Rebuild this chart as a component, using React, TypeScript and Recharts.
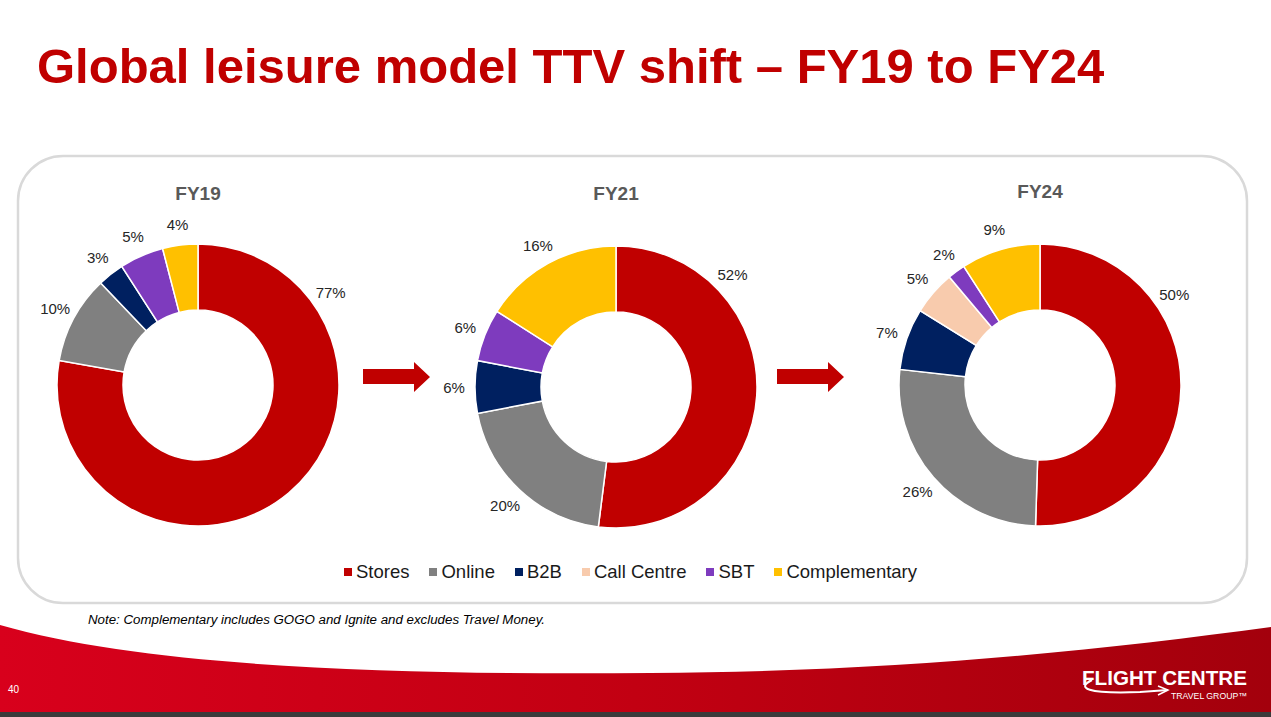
import React from 'react';
import { PieChart, Pie, Cell, Legend } from 'recharts';

const categories = ['Stores', 'Online', 'B2B', 'Call Centre', 'SBT', 'Complementary'];
const colors = ['#C00000', '#808080', '#002060', '#F8CBAD', '#7E3BBE', '#FFC000'];
const years = ['FY19', 'FY21', 'FY24'];
const fy19 = [77, 10, 3, 0, 5, 4];
const fy21 = [52, 20, 6, 0, 6, 16];
const fy24 = [50, 26, 7, 5, 2, 9];
const seriesByYear = [fy19, fy21, fy24];

const FONT = '"Liberation Sans", Arial, Helvetica, sans-serif';
const W = 1271;
const H = 717;

// layout of the three doughnuts (style, not data)
const pieLayout = [
  { cx: 198, cy: 385, titleY: 200, storesLabelAngle: 35 },
  { cx: 616, cy: 387, titleY: 200, storesLabelAngle: 44 },
  { cx: 1040, cy: 385, titleY: 198, storesLabelAngle: 34 },
];

const RAD = Math.PI / 180;

function makeLabel(storesAngle: number) {
  return (props: any) => {
    const { cx, cy, midAngle, outerRadius, value, payload } = props;
    if (!value) return null;
    const ang = payload && payload.name === 'Stores' ? storesAngle : midAngle;
    const r = outerRadius + 21;
    const x = cx + r * Math.cos(-ang * RAD);
    const y = cy + r * Math.sin(-ang * RAD);
    return (
      <text
        x={x}
        y={y}
        textAnchor="middle"
        dominantBaseline="central"
        fontSize={15}
        fontFamily={FONT}
        fill="#262626"
      >
        {`${value}%`}
      </text>
    );
  };
}

function LegendContent() {
  return (
    <div
      style={{
        display: 'flex',
        justifyContent: 'center',
        alignItems: 'center',
        fontFamily: FONT,
        fontSize: 18.5,
        color: '#1a1a1a',
        paddingRight: 10,
      }}
    >
      {categories.map((c, i) => (
        <div key={c} style={{ display: 'flex', alignItems: 'center', marginRight: i < categories.length - 1 ? 20 : 0 }}>
          <span style={{ display: 'inline-block', width: 8, height: 8, background: colors[i], marginRight: 4 }} />
          <span>{c}</span>
        </div>
      ))}
    </div>
  );
}

function Arrow({ x }: { x: number }) {
  const pts = [
    [x, 369],
    [x + 51, 369],
    [x + 51, 362],
    [x + 67, 377],
    [x + 51, 392],
    [x + 51, 384],
    [x, 384],
  ]
    .map((p) => p.join(','))
    .join(' ');
  return <polygon points={pts} fill="#C00000" />;
}

export default function App() {
  return (
    <div style={{ position: 'absolute', left: 0, top: 0, width: W, height: H, overflow: 'hidden', background: '#fff' }}>
      <svg width={W} height={H} style={{ position: 'absolute', left: 0, top: 0 }}>
        <defs>
          <linearGradient id="redband" x1="0" y1="0" x2="1" y2="0">
            <stop offset="0" stopColor="#D8001C" />
            <stop offset="0.5" stopColor="#C20012" />
            <stop offset="1" stopColor="#A3000C" />
          </linearGradient>
        </defs>
        {/* bottom band */}
        <rect x={0} y={600} width={W} height={112} fill="url(#redband)" />
        <path d="M0,590 L0,625 C150,668 400,675 650,673 C900,672 1100,650 1271,627 L1271,590 Z" fill="#ffffff" />
        <rect x={0} y={712} width={W} height={5} fill="#3B3B3B" />

        {/* title */}
        <text x={37} y={83} fontFamily={FONT} fontWeight="bold" fontSize={49} fill="#C00000">
          Global leisure model TTV shift – FY19 to FY24
        </text>

        {/* panel */}
        <rect x={18} y={156} width={1229} height={447} rx={45} ry={45} fill="none" stroke="#D9D9D9" strokeWidth={2.5} />

        {/* year titles */}
        {years.map((y, i) => (
          <text
            key={y}
            x={pieLayout[i].cx}
            y={pieLayout[i].titleY}
            textAnchor="middle"
            fontFamily={FONT}
            fontWeight="bold"
            fontSize={19}
            fill="#595959"
          >
            {y}
          </text>
        ))}

        <Arrow x={363} />
        <Arrow x={777} />

        {/* note */}
        <text
          x={88}
          y={624}
          fontFamily={FONT}
          fontStyle="italic"
          fontSize={12.5}
          fill="#000"
          textLength={457}
          lengthAdjust="spacingAndGlyphs"
        >
          Note: Complementary includes GOGO and Ignite and excludes Travel Money.
        </text>

        {/* page number */}
        <text x={8} y={693} fontFamily={FONT} fontSize={10} fill="#ffffff">
          40
        </text>

        {/* logo */}
        <text
          x={1082}
          y={685}
          fontFamily={FONT}
          fontWeight="bold"
          fontSize={21}
          fill="#ffffff"
          textLength={165}
          lengthAdjust="spacingAndGlyphs"
        >
          FLIGHT CENTRE
        </text>
        <path d="M1092,680 C1076,688 1086,694 1140,692 L1168,690" fill="none" stroke="#ffffff" strokeWidth={2} />
        <path d="M1158,686 L1168,690 L1158,695" fill="none" stroke="#ffffff" strokeWidth={1.5} />
        <text
          x={1171}
          y={699}
          fontFamily={FONT}
          fontSize={8.5}
          fill="#ffffff"
          textLength={76}
          lengthAdjust="spacingAndGlyphs"
        >
          TRAVEL GROUP™
        </text>
      </svg>

      <div style={{ position: 'absolute', left: 0, top: 0 }}>
        <PieChart width={W} height={H} margin={{ top: 0, right: 0, bottom: 0, left: 0 }}>
          {seriesByYear.map((vals, k) => {
            const data = categories
              .map((name, i) => ({ name, value: vals[i], color: colors[i] }))
              .filter((d) => d.value > 0);
            return (
              <Pie
                key={years[k]}
                data={data}
                dataKey="value"
                nameKey="name"
                cx={pieLayout[k].cx}
                cy={pieLayout[k].cy}
                innerRadius={75}
                outerRadius={141}
                startAngle={90}
                endAngle={-270}
                stroke="#ffffff"
                strokeWidth={1.5}
                labelLine={false}
                label={makeLabel(pieLayout[k].storesLabelAngle)}
                isAnimationActive={false}
              >
                {data.map((d) => (
                  <Cell key={d.name} fill={d.color} />
                ))}
              </Pie>
            );
          })}
          <Legend
            content={() => <LegendContent />}
            wrapperStyle={{ position: 'absolute', left: 0, top: 561, width: W, height: 24 }}
          />
        </PieChart>
      </div>
    </div>
  );
}
